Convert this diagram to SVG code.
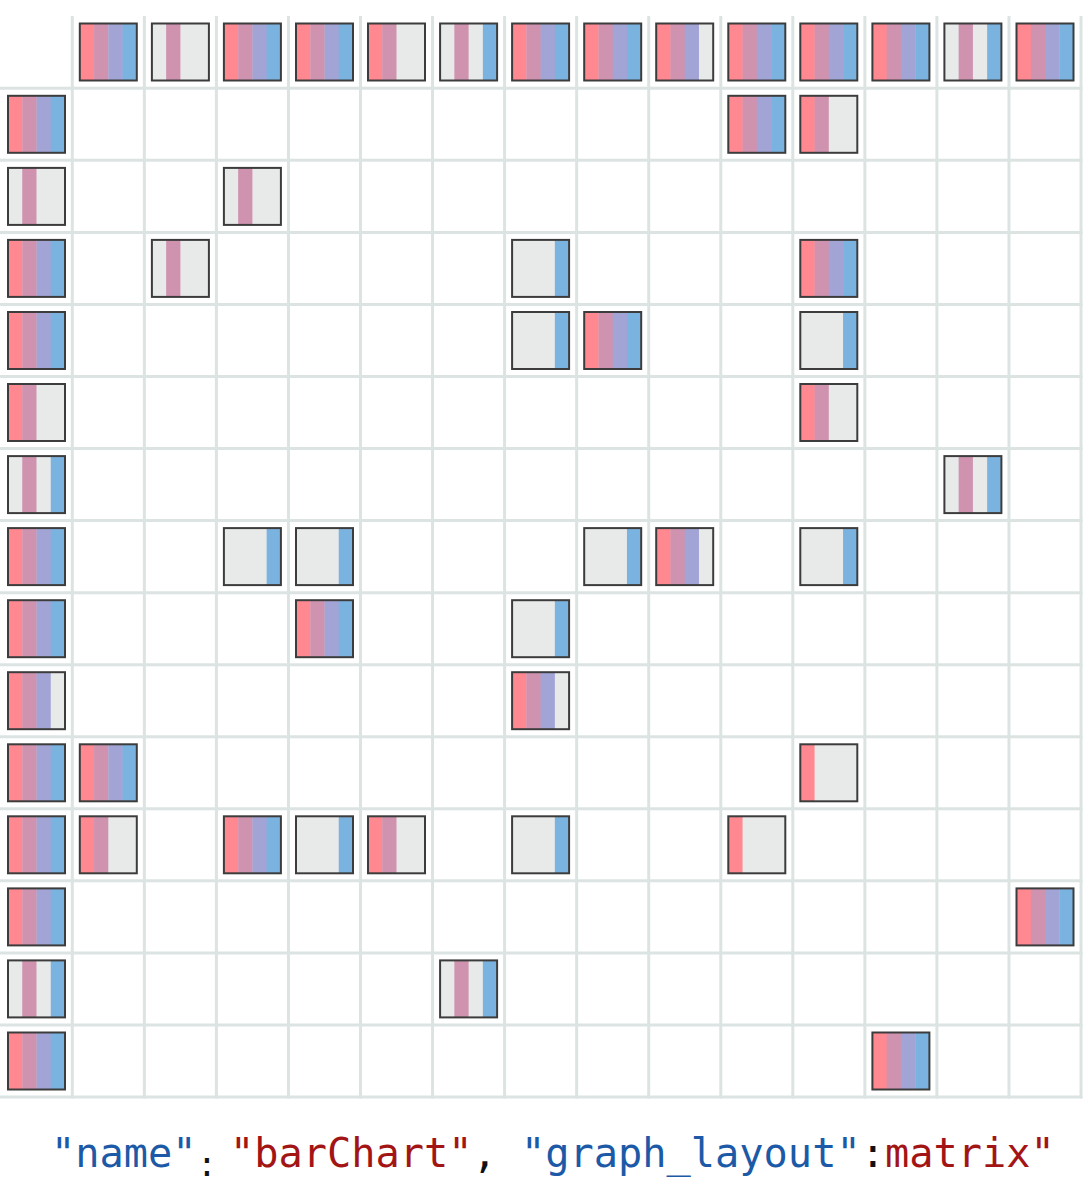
<svg xmlns="http://www.w3.org/2000/svg" xmlns:xlink="http://www.w3.org/1999/xlink" width="1091" height="1186" viewBox="0 0 1091 1186">
<style>
.grid line{stroke:#dce3e3;stroke-width:3}
.P{fill:#ff8891}.M{fill:#cf93b0}.L{fill:#a1a4d5}.B{fill:#7ab2e0}.G{fill:#e8eae9}
.frame{fill:none;stroke:#3c3c3c;stroke-width:2}
.code{font-family:"DejaVu Sans Mono","Liberation Mono",monospace;font-size:40.3px}
.k{fill:#1c5aa8}.s{fill:#a31515}.p{fill:#111}
</style>
<defs>
<rect id="f" class="frame" x="-28.5" y="-28.5" width="57" height="57"/>
<g id="PMLB"><rect class="P" x="-28.5" y="-28.5" width="14.6" height="57"/><rect class="M" x="-14.25" y="-28.5" width="14.6" height="57"/><rect class="L" x="0" y="-28.5" width="14.6" height="57"/><rect class="B" x="14.25" y="-28.5" width="14.25" height="57"/><use href="#f"/></g>
<g id="xMxx"><rect class="G" x="-28.5" y="-28.5" width="57" height="57"/><rect class="M" x="-14.25" y="-28.5" width="14.25" height="57"/><use href="#f"/></g>
<g id="PMxx"><rect class="G" x="-28.5" y="-28.5" width="57" height="57"/><rect class="P" x="-28.5" y="-28.5" width="14.6" height="57"/><rect class="M" x="-14.25" y="-28.5" width="14.25" height="57"/><use href="#f"/></g>
<g id="xMxB"><rect class="G" x="-28.5" y="-28.5" width="57" height="57"/><rect class="M" x="-14.25" y="-28.5" width="14.25" height="57"/><rect class="B" x="14.25" y="-28.5" width="14.25" height="57"/><use href="#f"/></g>
<g id="PMLx"><rect class="G" x="-28.5" y="-28.5" width="57" height="57"/><rect class="P" x="-28.5" y="-28.5" width="14.6" height="57"/><rect class="M" x="-14.25" y="-28.5" width="14.6" height="57"/><rect class="L" x="0" y="-28.5" width="14.25" height="57"/><use href="#f"/></g>
<g id="xxxB"><rect class="G" x="-28.5" y="-28.5" width="57" height="57"/><rect class="B" x="14.25" y="-28.5" width="14.25" height="57"/><use href="#f"/></g>
<g id="Pxxx"><rect class="G" x="-28.5" y="-28.5" width="57" height="57"/><rect class="P" x="-28.5" y="-28.5" width="14.25" height="57"/><use href="#f"/></g>
</defs>
<rect width="1091" height="1186" fill="#fff"/>
<g id="connectors" class="grid">
<line x1="72.3" y1="16" x2="72.3" y2="1098.5"/><line x1="144.35" y1="16" x2="144.35" y2="1098.5"/><line x1="216.4" y1="16" x2="216.4" y2="1098.5"/><line x1="288.45" y1="16" x2="288.45" y2="1098.5"/><line x1="360.5" y1="16" x2="360.5" y2="1098.5"/><line x1="432.55" y1="16" x2="432.55" y2="1098.5"/><line x1="504.6" y1="16" x2="504.6" y2="1098.5"/><line x1="576.65" y1="16" x2="576.65" y2="1098.5"/><line x1="648.7" y1="16" x2="648.7" y2="1098.5"/><line x1="720.75" y1="16" x2="720.75" y2="1098.5"/><line x1="792.8" y1="16" x2="792.8" y2="1098.5"/><line x1="864.85" y1="16" x2="864.85" y2="1098.5"/><line x1="936.9" y1="16" x2="936.9" y2="1098.5"/><line x1="1008.95" y1="16" x2="1008.95" y2="1098.5"/><line x1="1081" y1="16" x2="1081" y2="1098.5"/>
<line x1="0" y1="88.3" x2="1082.5" y2="88.3"/><line x1="0" y1="160.35" x2="1082.5" y2="160.35"/><line x1="0" y1="232.4" x2="1082.5" y2="232.4"/><line x1="0" y1="304.45" x2="1082.5" y2="304.45"/><line x1="0" y1="376.5" x2="1082.5" y2="376.5"/><line x1="0" y1="448.55" x2="1082.5" y2="448.55"/><line x1="0" y1="520.6" x2="1082.5" y2="520.6"/><line x1="0" y1="592.65" x2="1082.5" y2="592.65"/><line x1="0" y1="664.7" x2="1082.5" y2="664.7"/><line x1="0" y1="736.75" x2="1082.5" y2="736.75"/><line x1="0" y1="808.8" x2="1082.5" y2="808.8"/><line x1="0" y1="880.85" x2="1082.5" y2="880.85"/><line x1="0" y1="952.9" x2="1082.5" y2="952.9"/><line x1="0" y1="1024.95" x2="1082.5" y2="1024.95"/><line x1="0" y1="1097" x2="1082.5" y2="1097"/>
</g>
<g id="header-row">
<g id="col1"><use href="#PMLB" x="108.3" y="52"/></g>
<g id="col2"><use href="#xMxx" x="180.4" y="52"/></g>
<g id="col3"><use href="#PMLB" x="252.4" y="52"/></g>
<g id="col4"><use href="#PMLB" x="324.5" y="52"/></g>
<g id="col5"><use href="#PMxx" x="396.5" y="52"/></g>
<g id="col6"><use href="#xMxB" x="468.6" y="52"/></g>
<g id="col7"><use href="#PMLB" x="540.6" y="52"/></g>
<g id="col8"><use href="#PMLB" x="612.7" y="52"/></g>
<g id="col9"><use href="#PMLx" x="684.7" y="52"/></g>
<g id="col10"><use href="#PMLB" x="756.8" y="52"/></g>
<g id="col11"><use href="#PMLB" x="828.8" y="52"/></g>
<g id="col12"><use href="#PMLB" x="900.9" y="52"/></g>
<g id="col13"><use href="#xMxB" x="972.9" y="52"/></g>
<g id="col14"><use href="#PMLB" x="1045" y="52"/></g>
</g>
<g id="header-col">
<g id="row1"><use href="#PMLB" x="36.5" y="124.3"/></g>
<g id="row2"><use href="#xMxx" x="36.5" y="196.4"/></g>
<g id="row3"><use href="#PMLB" x="36.5" y="268.4"/></g>
<g id="row4"><use href="#PMLB" x="36.5" y="340.5"/></g>
<g id="row5"><use href="#PMxx" x="36.5" y="412.5"/></g>
<g id="row6"><use href="#xMxB" x="36.5" y="484.6"/></g>
<g id="row7"><use href="#PMLB" x="36.5" y="556.6"/></g>
<g id="row8"><use href="#PMLB" x="36.5" y="628.7"/></g>
<g id="row9"><use href="#PMLx" x="36.5" y="700.7"/></g>
<g id="row10"><use href="#PMLB" x="36.5" y="772.8"/></g>
<g id="row11"><use href="#PMLB" x="36.5" y="844.8"/></g>
<g id="row12"><use href="#PMLB" x="36.5" y="916.9"/></g>
<g id="row13"><use href="#xMxB" x="36.5" y="988.9"/></g>
<g id="row14"><use href="#PMLB" x="36.5" y="1061"/></g>
</g>
<g id="cells">
<g id="r1c10"><use href="#PMLB" x="756.8" y="124.3"/></g>
<g id="r1c11"><use href="#PMxx" x="828.8" y="124.3"/></g>
<g id="r2c3"><use href="#xMxx" x="252.4" y="196.4"/></g>
<g id="r3c2"><use href="#xMxx" x="180.4" y="268.4"/></g>
<g id="r3c7"><use href="#xxxB" x="540.6" y="268.4"/></g>
<g id="r3c11"><use href="#PMLB" x="828.8" y="268.4"/></g>
<g id="r4c7"><use href="#xxxB" x="540.6" y="340.5"/></g>
<g id="r4c8"><use href="#PMLB" x="612.7" y="340.5"/></g>
<g id="r4c11"><use href="#xxxB" x="828.8" y="340.5"/></g>
<g id="r5c11"><use href="#PMxx" x="828.8" y="412.5"/></g>
<g id="r6c13"><use href="#xMxB" x="972.9" y="484.6"/></g>
<g id="r7c3"><use href="#xxxB" x="252.4" y="556.6"/></g>
<g id="r7c4"><use href="#xxxB" x="324.5" y="556.6"/></g>
<g id="r7c8"><use href="#xxxB" x="612.7" y="556.6"/></g>
<g id="r7c9"><use href="#PMLx" x="684.7" y="556.6"/></g>
<g id="r7c11"><use href="#xxxB" x="828.8" y="556.6"/></g>
<g id="r8c4"><use href="#PMLB" x="324.5" y="628.7"/></g>
<g id="r8c7"><use href="#xxxB" x="540.6" y="628.7"/></g>
<g id="r9c7"><use href="#PMLx" x="540.6" y="700.7"/></g>
<g id="r10c1"><use href="#PMLB" x="108.3" y="772.8"/></g>
<g id="r10c11"><use href="#Pxxx" x="828.8" y="772.8"/></g>
<g id="r11c1"><use href="#PMxx" x="108.3" y="844.8"/></g>
<g id="r11c3"><use href="#PMLB" x="252.4" y="844.8"/></g>
<g id="r11c4"><use href="#xxxB" x="324.5" y="844.8"/></g>
<g id="r11c5"><use href="#PMxx" x="396.5" y="844.8"/></g>
<g id="r11c7"><use href="#xxxB" x="540.6" y="844.8"/></g>
<g id="r11c10"><use href="#Pxxx" x="756.8" y="844.8"/></g>
<g id="r12c14"><use href="#PMLB" x="1045" y="916.9"/></g>
<g id="r13c6"><use href="#xMxB" x="468.6" y="988.9"/></g>
<g id="r14c12"><use href="#PMLB" x="900.9" y="1061"/></g>
</g>
<g id="caption">
<text class="code" y="1167"><tspan class="k" x="51">"name"</tspan><tspan class="p" x="197" dy="9" style="font-size:33px">:</tspan><tspan class="s" x="230" dy="-9">"barChart"</tspan><tspan class="p">,</tspan><tspan class="k" x="521">"graph_layout"</tspan><tspan class="p">:</tspan><tspan class="s">matrix"</tspan></text>
</g>
</svg>
